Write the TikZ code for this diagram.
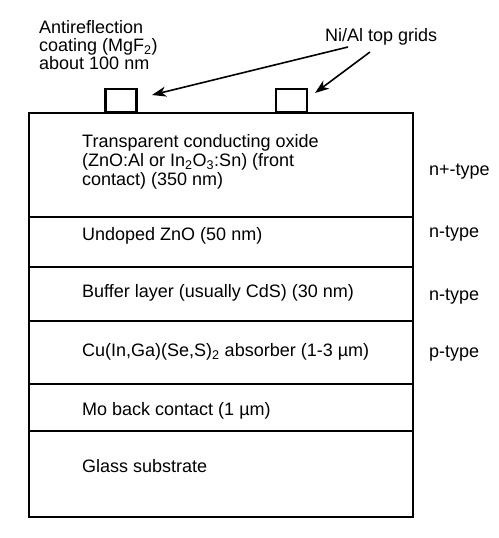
\documentclass[tikz,border=0pt]{standalone}
\usepackage{fontspec}
\setmainfont{Liberation Sans}
\usetikzlibrary{arrows.meta,calc}
\begin{document}
\begin{tikzpicture}[x=1pt,y=-1pt,
  layerbox/.style={draw=black,line width=2.2pt,minimum width=384pt,inner sep=0pt},
  gridbox/.style={draw=black,line width=2.2pt,minimum width=31pt,minimum height=23pt,inner sep=0pt,anchor=south},
  txt/.style={anchor=west,inner sep=0pt,align=left,font=\fontsize{18}{19}\selectfont},
  arr/.style={line width=1.6pt,-{Stealth[length=14pt,width=10pt,inset=4pt]}}]
\useasboundingbox (0,0) rectangle (498,538);
% layers
\node[layerbox,minimum height=104pt] (tco)   at (221,165) {};
\node[layerbox,minimum height=50pt]  (zno)   at (221,242) {};
\node[layerbox,minimum height=54pt]  (buf)   at (221,294) {};
\node[layerbox,minimum height=63pt]  (cigs)  at (221,352.5) {};
\node[layerbox,minimum height=47pt]  (mo)    at (221,407.5) {};
\node[layerbox,minimum height=86pt]  (glass) at (221,474) {};
% grids
\node[gridbox] (g1) at (121,113) {};
\node[gridbox] (g2) at (291.5,113) {};
% layer texts
\node[txt] (ttco) at (82,162) {Transparent conducting oxide\\(ZnO:Al or In\textsubscript{2}O\textsubscript{3}:Sn) (front\\contact) (350 nm)};
\node[txt] (tzno) at (82,236) {Undoped ZnO (50 nm)};
\node[txt] (tbuf) at (82,293) {Buffer layer (usually CdS) (30 nm)};
\node[txt] (tcigs) at (82,352) {Cu(In,Ga)(Se,S)\textsubscript{2} absorber (1-3 µm)};
\node[txt] (tmo) at (82,411) {Mo back contact (1 µm)};
\node[txt] (tglass) at (82,466) {Glass substrate};
% type labels
\node[txt] (nplus) at (429,172) {n+-type};
\node[txt] (n1) at (429,234) {n-type};
\node[txt] (n2) at (429,297) {n-type};
\node[txt] (p1) at (429,354) {p-type};
% top labels
\node[txt,font=\fontsize{18}{18}\selectfont] (arc) at (39,45) {Antireflection\\coating (MgF\textsubscript{2})\\about 100 nm};
\node[txt] (grids) at (325,37) {Ni/Al top grids};
% arrows
\coordinate (s1) at (348,47);
\coordinate (e1) at (152,95);
\coordinate (s2) at (370,52);
\coordinate (e2) at (315,93);
\draw[arr] (s1) -- (e1);
\draw[arr] (s2) -- (e2);
\end{tikzpicture}
\end{document}
